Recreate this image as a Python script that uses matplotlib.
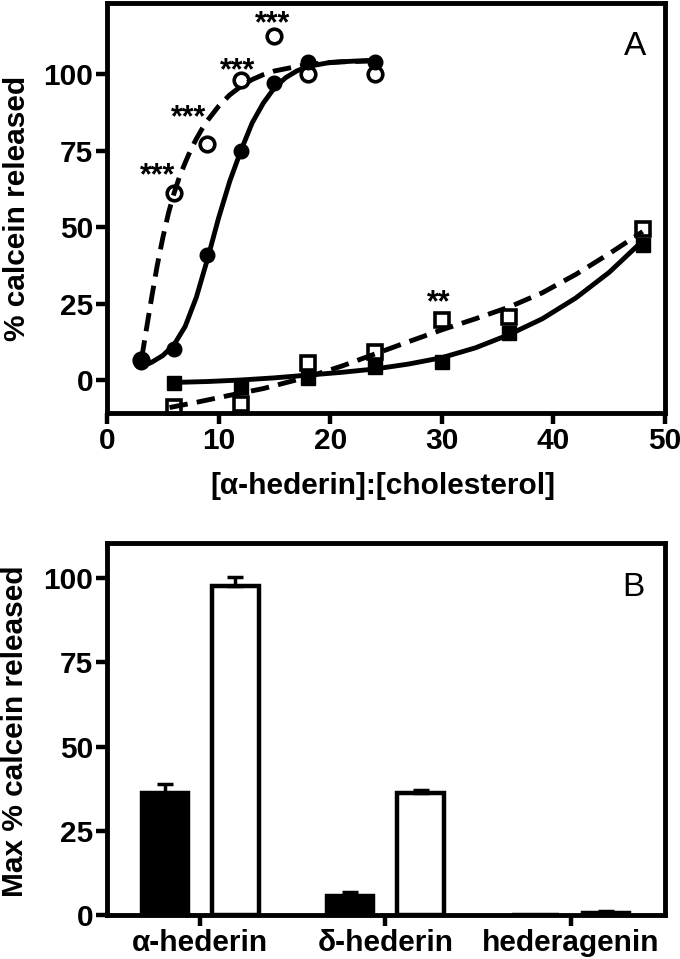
import matplotlib
matplotlib.use("Agg")
import matplotlib.pyplot as plt

plt.rcParams['font.family'] = ['Liberation Sans', 'DejaVu Sans']
plt.rcParams['font.weight'] = 'bold'

# panel A data
ratio_circ = [3, 6, 9, 12, 15, 18, 24]
alpha_filled = [6, 10, 41, 75, 97, 104, 104]
alpha_open = [6.5, 61, 77, 98, 112.5, 100, 100]

ratio_sq = [6, 12, 18, 24, 30, 36, 48]
sq_filled = [-1, -2.3, 0.8, 4.4, 6, 15.3, 44]
sq_open = [-8.8, -8.0, 5.6, 9.3, 19.6, 20.7, 49.3]

# fitted curves
fitA_x = [3, 3.5, 4, 5, 6, 7, 8, 9, 10, 11, 12, 13, 14, 15, 16, 17, 18, 20, 22, 24]
fitA_y = [4.5, 5, 5.8, 8, 11.5, 17.5, 27, 39.5, 53, 65, 75, 84, 90.5, 95.5, 98.8, 101, 102.5, 103.8, 104.2, 104.5]
fitB_x = [3.1, 3.5, 4, 4.5, 5, 5.5, 6, 6.5, 7, 7.5, 8, 8.5, 9, 10, 11, 12, 13, 14, 15, 18, 21, 24]
fitB_y = [7, 16, 27, 37.5, 46.5, 54.5, 61, 66.5, 71, 75.2, 78.8, 82, 84.8, 89.5, 93.2, 96, 98.2, 99.8, 101, 103.2, 104, 104.3]
fitC_x = [6, 9, 12, 15, 18, 21, 24, 27, 30, 33, 36, 39, 42, 45, 48]
fitC_y = [-0.8, -0.5, 0, 0.7, 1.6, 2.5, 3.6, 5.2, 7.3, 10.5, 14.8, 20, 26.8, 35.2, 45.5]
fitD_x = [5.6, 8, 11, 14, 18, 21, 24, 27, 30, 33, 36, 39, 42, 45, 48]
fitD_y = [-9, -7.3, -5, -2.8, 1, 4.5, 8.5, 12.5, 16.4, 20, 23.8, 28.5, 34.5, 41.3, 48.5]

stars_x = [4.5, 7.3, 11.7, 14.8, 29.7]
stars_y = [69.7, 88.5, 104, 119.3, 28.1]
stars_txt = ['***', '***', '***', '***', '**']

# panel B data
compounds = ['α-hederin', 'δ-hederin', 'hederagenin']
black_vals = [36.3, 5.5, 0]
black_err = [2.5, 1.2, 0]
white_vals = [97.7, 36.3, 0.6]
white_err = [2.5, 0.9, 0.6]

fig = plt.figure(figsize=(6.8, 9.59), dpi=100)
ax1 = fig.add_axes([0.1574, 0.5693, 0.8206, 0.4275])
ax2 = fig.add_axes([0.1574, 0.0459, 0.8206, 0.3879])

lw = 3.5
dash = (3.8, 1.9)

ax1.plot(fitA_x, fitA_y, color='k', lw=lw, zorder=2, solid_joinstyle='round')
ax1.plot(fitB_x, fitB_y, color='k', lw=lw, dashes=dash, zorder=2)
ax1.plot(fitC_x, fitC_y, color='k', lw=lw, zorder=2, solid_joinstyle='round')
ax1.plot(fitD_x, fitD_y, color='k', lw=lw, dashes=dash, zorder=2)

ax1.plot(ratio_circ, alpha_open, 'o', ms=10.5, mfc='none', mec='k', mew=2.6, zorder=3, clip_on=False)
ax1.plot(ratio_circ, alpha_filled, 'o', ms=10.5, color='k', zorder=4, clip_on=False)
ax1.plot(ratio_sq, sq_open, 's', ms=10, mfc='none', mec='k', mew=2.6, zorder=3, clip_on=False)
ax1.plot(ratio_sq, sq_filled, 's', ms=10, color='k', zorder=4, clip_on=False)

for x, y, t in zip(stars_x, stars_y, stars_txt):
    ax1.annotate(t, (x, y), xytext=(0, -12.5), textcoords='offset points',
                 ha='center', va='baseline', fontsize=22, fontweight='bold')

ax1.set_xlim(0, 50)
ax1.set_ylim(-10.8, 123.2)
ax1.set_xticks([0, 10, 20, 30, 40, 50])
ax1.set_yticks([0, 25, 50, 75, 100])
ax1.set_xlabel('[α-hederin]:[cholesterol]', fontsize=21.5, fontweight='bold')
ax1.set_ylabel('% calcein released', fontsize=21.5, fontweight='bold')
ax1.yaxis.set_label_coords(-0.137, 0.5)
ax1.xaxis.set_label_coords(0.494, -0.145)
ax1.text(0.946, 0.893, 'A', transform=ax1.transAxes, fontsize=24,
         fontweight='normal', ha='center', va='center')

# panel B bars
xpos = list(range(len(compounds)))
off = 0.19
bw = 0.25
ax2.bar([p - off for p in xpos], black_vals, bw, color='k', edgecolor='k', lw=3.2, zorder=2)
ax2.bar([p + off for p in xpos], white_vals, bw, color='white', edgecolor='k', lw=3.2, zorder=2)
ax2.errorbar([p - off for p in xpos], black_vals, yerr=[[0] * 3, black_err], fmt='none',
             ecolor='k', elinewidth=2.5, capsize=5.5, capthick=2.5, zorder=3)
ax2.errorbar([p + off for p in xpos], white_vals, yerr=[[0] * 3, white_err], fmt='none',
             ecolor='k', elinewidth=2.5, capsize=5.5, capthick=2.5, zorder=3)
ax2.set_xlim(-0.503, 2.51)
ax2.set_ylim(0, 110.4)
ax2.set_xticks(xpos)
ax2.set_xticklabels(compounds)
ax2.set_yticks([0, 25, 50, 75, 100])
ax2.set_ylabel('Max % calcein released', fontsize=21.5, fontweight='bold')
ax2.yaxis.set_label_coords(-0.14, 0.495)
ax2.text(0.943, 0.879, 'B', transform=ax2.transAxes, fontsize=24,
         fontweight='normal', ha='center', va='center')

for ax in (ax1, ax2):
    for s in ax.spines.values():
        s.set_linewidth(3.5)
    ax.tick_params(direction='out', length=8, width=3.2, labelsize=21.5, pad=2)

fig.savefig('out.png', dpi=100)
